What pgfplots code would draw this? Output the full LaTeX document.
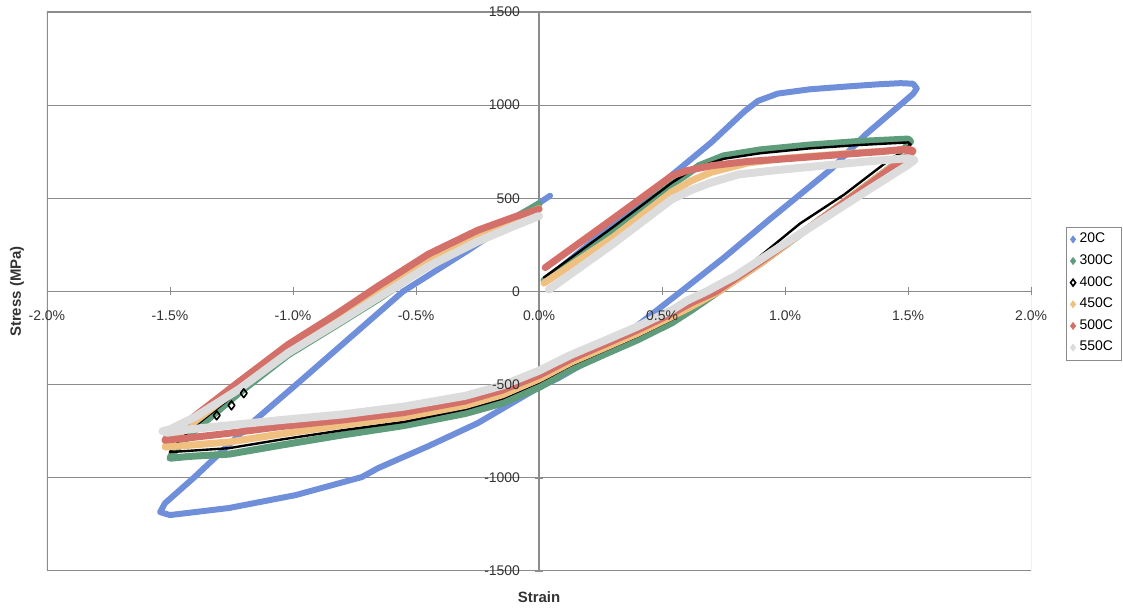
\documentclass[border=0pt]{standalone}
\usepackage{fontspec}
\setmainfont{Liberation Sans}
\usepackage{pgfplots}
\pgfplotsset{compat=1.18}
\pgfplotsset{
  layers/mylayers/.define layer set={
    axis background,axis grid,axis ticks,axis lines,pre main,main,axis tick labels,axis descriptions,axis foreground
  }{
    grid style={/pgfplots/on layer=axis grid},
    tick style={/pgfplots/on layer=axis ticks},
    axis line style={/pgfplots/on layer=axis lines},
    label style={/pgfplots/on layer=axis descriptions},
    legend style={/pgfplots/on layer=axis descriptions},
    title style={/pgfplots/on layer=axis descriptions},
    ticklabel style={/pgfplots/on layer=axis tick labels},
  },
}
\definecolor{c20}{HTML}{6F8FDB}
\definecolor{c300}{HTML}{5E9C7C}
\definecolor{c450}{HTML}{F0C080}
\definecolor{c500}{HTML}{D4706A}
\definecolor{c550}{HTML}{DCDCDC}
\definecolor{gridc}{HTML}{8C8C8C}
\definecolor{txt}{HTML}{333333}
\begin{document}
\begin{tikzpicture}
\begin{axis}[
  set layers=mylayers,
  scale only axis, width=493pt, height=280pt,
  xmin=-2, xmax=2, ymin=-1500, ymax=1500,
  axis lines=middle, axis line style={-, draw=gridc, line width=0.6pt},
  hide obscured x ticks=false, hide obscured y ticks=false,
  xtick={-2,-1.5,-1,-0.5,0,0.5,1,1.5,2},
  ytick={-1500,-1000,-500,0,500,1000,1500},
  /pgf/number format/assume math mode=true,
  /pgf/number format/1000 sep={},
  xticklabel={\pgfmathprintnumber[fixed,fixed zerofill,precision=1]{\tick}\%},
  ticklabel style={font=\fontsize{7}{8}\selectfont, text=txt},
  xticklabel style={yshift=-4pt},
  yticklabel style={xshift=-4pt},
  ymajorgrids, major grid style={gridc, line width=0.5pt},
  tick style={gridc}, major tick length=4pt,
  line join=round, line cap=round,
  legend style={at={(1.0355,0.616)}, anchor=north west, draw=gridc, fill=white,
    font=\fontsize{7}{8.4}\selectfont, row sep=0.45pt, inner xsep=2pt, inner ysep=1pt,
    cells={anchor=west}},
  legend image code/.code={\draw[#1] plot coordinates {(0.1cm,0cm)};},
]
% 20C
\addplot[c20, line width=3pt, forget plot] coordinates {
(0.02,55) (0.25,305) (0.54,625) (0.70,800) (0.837,969) (0.89,1023) (0.97,1062)
(1.10,1085) (1.25,1100) (1.38,1112) (1.47,1118) (1.52,1115) (1.535,1090) (1.52,1060)
(1.325,840) (1.19,660) (0.94,390) (0.75,180) (0.577,0) (0.47,-110) (0.39,-193)
(0.24,-343) (0.077,-466) (0,-514) (-0.25,-707) (-0.45,-830) (-0.654,-948) (-0.72,-996)
(-0.99,-1093) (-1.26,-1162) (-1.50,-1200) (-1.54,-1184) (-1.52,-1136) (-1.40,-996)
(-1.155,-691) (-0.967,-477) (-0.553,0) (-0.289,220) (0.045,514)
};
% 300C
\addplot[c300, line width=3.5pt, forget plot] coordinates {
(0.02,60) (0.30,330) (0.54,575) (0.60,628) (0.65,675) (0.75,728) (0.9,760) (1.1,786)
(1.3,805) (1.50,818) (1.51,805) (1.48,760) (1.45,688) (1.30,540) (1.10,345) (0.90,150)
(0.73,0) (0.62,-100) (0.54,-168) (0.40,-260) (0.27,-335) (0.13,-418) (0,-515)
(-0.15,-600) (-0.3,-655) (-0.55,-720) (-0.8,-770) (-1.05,-825) (-1.26,-873) (-1.42,-885)
(-1.50,-895) (-1.49,-870) (-1.42,-770) (-1.22,-545) (-1.02,-340) (-0.82,-178)
(-0.65,-38) (-0.45,140) (-0.25,292) (-0.10,395) (0,470)
};
% 400C
\addplot[black, line width=1.2pt, forget plot] coordinates {
(0.02,75) (0.30,345) (0.54,584) (0.60,635) (0.65,668) (0.75,712) (0.9,742) (1.1,768)
(1.3,786) (1.50,800) (1.51,790) (1.47,745) (1.42,702) (1.24,520) (1.06,364) (0.89,180)
(0.72,0) (0.62,-90) (0.54,-150) (0.40,-240) (0.27,-315) (0.13,-396) (0,-488)
(-0.15,-575) (-0.3,-632) (-0.55,-700) (-0.8,-745) (-1.05,-795) (-1.26,-841) (-1.42,-855)
(-1.50,-862) (-1.49,-840) (-1.42,-745) (-1.22,-535) (-1.02,-335) (-0.82,-175)
(-0.65,-35) (-0.45,142) (-0.25,288) (-0.10,388) (0,455)
};
\addplot[only marks, mark=diamond, mark size=2.2pt, black, fill=c450, line width=0.8pt, forget plot] coordinates {
(-1.31,-665) (-1.25,-611) (-1.20,-546)
};
% 450C
\addplot[c450, line width=3.5pt, forget plot] coordinates {
(0.02,45) (0.30,290) (0.54,535) (0.62,595) (0.70,640) (0.85,690) (1.0,715) (1.25,740)
(1.50,762) (1.52,750) (1.49,725) (1.30,540) (1.10,345) (0.90,150) (0.73,0) (0.62,-80)
(0.54,-135) (0.40,-225) (0.27,-300) (0.13,-380) (0,-470) (-0.15,-555) (-0.3,-612)
(-0.55,-675) (-0.8,-718) (-1.05,-765) (-1.26,-808) (-1.42,-825) (-1.52,-835)
(-1.51,-815) (-1.42,-720) (-1.22,-515) (-1.02,-318) (-0.82,-155) (-0.65,-10)
(-0.45,165) (-0.25,300) (-0.10,385) (0,445)
};
% 500C
\addplot[c500, line width=3.5pt, forget plot] coordinates {
(0.025,128) (0.30,390) (0.54,621) (0.60,648) (0.70,675) (0.85,698) (1.0,712) (1.2,732)
(1.4,752) (1.50,765) (1.52,755) (1.49,720) (1.30,535) (1.10,345) (0.90,160) (0.72,0)
(0.62,-60) (0.54,-118) (0.40,-207) (0.27,-282) (0.13,-362) (0,-450) (-0.15,-530)
(-0.3,-588) (-0.55,-650) (-0.8,-690) (-1.05,-725) (-1.26,-761) (-1.42,-785) (-1.52,-798)
(-1.51,-780) (-1.42,-690) (-1.22,-485) (-1.02,-285) (-0.82,-118) (-0.65,32) (-0.45,200)
(-0.25,328) (-0.10,400) (0,442)
};
% 550C
\addplot[c550, line width=4pt, forget plot] coordinates {
(0.04,10) (0.30,255) (0.54,495) (0.62,545) (0.70,585) (0.81,628) (0.97,652) (1.15,675)
(1.35,700) (1.50,715) (1.525,705) (1.50,680) (1.35,555) (1.15,385) (0.95,215) (0.80,85)
(0.68,0) (0.60,-50) (0.54,-100) (0.40,-188) (0.27,-262) (0.13,-340) (0,-425)
(-0.15,-505) (-0.3,-560) (-0.55,-618) (-0.8,-660) (-1.05,-690) (-1.26,-718) (-1.42,-740)
(-1.51,-758) (-1.53,-750) (-1.50,-740) (-1.40,-675) (-1.22,-525) (-1.02,-330)
(-0.82,-170) (-0.65,-30) (-0.45,135) (-0.25,268) (-0.10,352) (0,405)
};
\addlegendimage{only marks, mark=diamond*, mark size=1.7pt, c20}
\addlegendentry{20C}
\addlegendimage{only marks, mark=diamond*, mark size=1.7pt, c300}
\addlegendentry{300C}
\addlegendimage{only marks, mark=diamond, mark size=1.7pt, black, line width=0.8pt}
\addlegendentry{400C}
\addlegendimage{only marks, mark=diamond*, mark size=1.7pt, c450}
\addlegendentry{450C}
\addlegendimage{only marks, mark=diamond*, mark size=1.7pt, c500}
\addlegendentry{500C}
\addlegendimage{only marks, mark=diamond*, mark size=1.7pt, c550}
\addlegendentry{550C}
\draw[gridc, line width=0.6pt] (rel axis cs:0,0) rectangle (rel axis cs:1,1);
\coordinate (sw) at (rel axis cs:0,0);
\coordinate (ne) at (rel axis cs:1,1);
\coordinate (xl) at (rel axis cs:0.5,0);
\coordinate (yl) at (rel axis cs:0,0.5);
\end{axis}
\node[font=\bfseries\fontsize{7.5}{9}\selectfont, text=txt] at ([yshift=-13pt]xl) {Strain};
\node[font=\bfseries\fontsize{7.5}{9}\selectfont, text=txt, rotate=90] at ([xshift=-15pt]yl) {Stress (MPa)};
\pgfresetboundingbox
\path[use as bounding box] ([shift={(-23.5pt,-19pt)}]sw) rectangle ([shift={(46pt,6pt)}]ne);
\end{tikzpicture}
\end{document}
